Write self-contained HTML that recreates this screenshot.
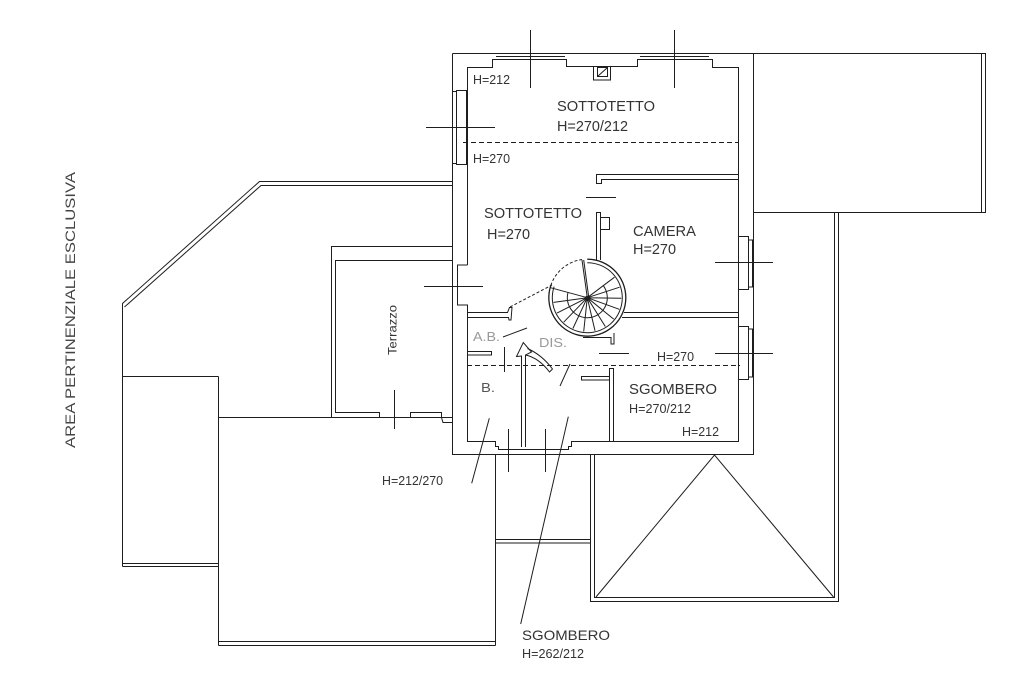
<!DOCTYPE html>
<html><head><meta charset="utf-8"><style>
html,body{margin:0;padding:0;background:#fff;}
svg{display:block;}
text{font-family:"Liberation Sans",Arial,sans-serif;fill:#333;}
</style></head><body>
<svg width="1024" height="681" viewBox="0 0 1024 681" xmlns="http://www.w3.org/2000/svg">
<rect width="1024" height="681" fill="#fff"/>
<g fill="none" stroke="#1e1e1e" stroke-width="1">
<!-- main building outer -->
<path d="M452.5,53.5 H985.5 V212.5 H753.5 M452.5,53.5 V454.5 H753.5 V53.5"/>
<path d="M981.5,53.5 V212.5"/>
<!-- inner wall -->
<path d="M467.5,265 V67.5 H492.5 V59.5 H566.5 V66.5 H637.5 V59.5 H712.5 V67.5 H738.5 V441.5 H571.5 V446.5 H568.5 V449.5 H498.5 V446.5 H495.5 V441.5 H467.5 V305 H457.5 V265 H467.5"/>
<path d="M496,56.5 H565 M640,56.5 H709"/>
<!-- vent -->
<rect x="593.5" y="66.5" width="17" height="13.5"/>
<rect x="597.5" y="67.5" width="10" height="9"/>
<path d="M597.5,76.5 L607.5,67.5"/>
<!-- left windows -->
<rect x="456.5" y="90.5" width="10" height="74"/>
<path d="M452.5,91.5 H456.5 M452.5,163.5 H456.5"/>
<!-- right windows -->
<rect x="738.5" y="236.5" width="10" height="53"/>
<path d="M748.5,240 H752.5 V287 H748.5"/>
<rect x="738.5" y="326.5" width="10" height="53"/>
<path d="M748.5,329 H752.5 V377 H748.5"/>
<!-- cross markers -->
<path d="M530.5,30 V88 M674.5,30 V88 M426,127.5 H495 M424,286.5 H483 M715,262.5 H773 M715,353.5 H773 M599,353.5 H629 M394.5,390 V429 M508.5,429 V472 M545.5,429 V472 M586,197.5 H616"/>
<!-- dashed -->
<path d="M463,142.5 H738" stroke-dasharray="5,3"/>
<path d="M467,365.5 H740" stroke-dasharray="5,3"/>
<!-- partition walls -->
<path d="M738.5,174.5 H596.5 V183.5 H601.5 V179.5 H738.5"/>
<path d="M596.5,260 V212.5 H600.5 V260"/>
<rect x="600.5" y="217.5" width="9" height="12"/>
<path d="M624,312.5 H738.5 M622,317.5 H738.5"/>
<path d="M467.5,312.5 H507.5 L509.5,307.5 H512 L511,320 H509 L508.5,317.5 H467.5"/>
<!-- A.B. -->
<path d="M467.5,351.5 H491.5 V355 H467.5"/>
<path d="M503,337 L527,328"/>
<path d="M504.5,347 V372"/>
<!-- arrow / wall -->
<path d="M521.5,447 V356 L516.5,356.5 L523.3,342.5 L531.5,352 L525.5,355 V447"/>
<path d="M527.5,348.5 Q542,355 552.5,369 L549.5,372 Q539,358 525.5,355"/>
<path d="M570,364 L560,386"/>
<path d="M510,307 L552,285" stroke-dasharray="3,2"/>
<path d="M609.5,441 V368.5 H613.5 V441"/>
<path d="M609.5,376.5 H581.5 V380 H609.5"/>
<path d="M583,337.5 H611 V344 H614 V333"/>
<!-- stair -->
<path d="M587.3,259.2 A38.5,38.5 0 1 1 550.8,285.5" stroke-width="1.3"/>
<path d="M587.3,262.7 A35,35 0 1 1 554.1,286.6"/>
<path d="M550.8,285.5 A38.5,38.5 0 0 1 582,259.5" stroke-dasharray="3,2"/>
<path d="M587.3,297.7 L582,260 M588.8,297.7 L583.7,260"/>
<path d="M587.3,297.7 L614.5,277.2 M587.3,297.7 L619.6,287.2 M587.3,297.7 L621.3,298.3 M587.3,297.7 L619.3,309.3 M587.3,297.7 L613.7,319.1 M587.3,297.7 L605.3,326.5 M587.3,297.7 L595,330.8 M587.3,297.7 L583.7,331.5 M587.3,297.7 L572.9,328.5 M587.3,297.7 L563.7,322.2 M587.3,297.7 L557,313.1 M587.3,297.7 L553.6,302.4 M587.3,297.7 L550.5,287.7"/>
<path d="M603.3,285.7 A20,20 0 1 1 568.0,292.5"/>
<circle cx="587.3" cy="297.7" r="1.5"/>
<!-- left area -->
<path d="M122.5,566.5 V303.5 L259.5,181.5 H452.5"/>
<path d="M124.5,307 L261,185.5 H452.5"/>
<path d="M122.5,376.5 H218.5 M218.5,376.5 V645.5"/>
<path d="M122.5,563.5 H218.5 M122.5,566.5 H218.5"/>
<path d="M218.5,417.5 H452.5"/>
<path d="M495.5,454.5 V645.5 M218.5,641.5 H495.5 M218.5,645.5 H495.5"/>
<!-- terrazzo -->
<path d="M331.5,417.5 V246.5 H452.5"/>
<path d="M379.5,417.5 V412.5 H335.5 V260.5 H452.5"/>
<path d="M410.5,417.5 V412.5 H441.5 V417.5 L443,422.5 H452.5"/>
<!-- bottom -->
<path d="M495.5,539.5 H590.5 M495.5,543 H590.5"/>
<path d="M590.5,454.5 V601.5 H838.5 V212.5"/>
<path d="M594.5,454.5 V597.5 H834.5 V212.5"/>
<path d="M596,597 L714.5,455 L833.5,597"/>
<!-- leaders -->
<path d="M489.3,418.3 L471.7,483.3 M568.3,416.7 L520.7,624"/>
</g>
<!-- texts -->
<g>
<text x="473" y="84" font-size="12.5" textLength="37" lengthAdjust="spacingAndGlyphs">H=212</text>
<text x="557" y="111" font-size="15" textLength="98" lengthAdjust="spacingAndGlyphs">SOTTOTETTO</text>
<text x="557" y="131" font-size="15" textLength="71" lengthAdjust="spacingAndGlyphs">H=270/212</text>
<text x="473" y="163" font-size="12.5" textLength="37" lengthAdjust="spacingAndGlyphs">H=270</text>
<text x="484" y="218" font-size="15" textLength="98" lengthAdjust="spacingAndGlyphs">SOTTOTETTO</text>
<text x="487" y="239" font-size="15" textLength="43" lengthAdjust="spacingAndGlyphs">H=270</text>
<text x="633" y="236" font-size="15" textLength="63" lengthAdjust="spacingAndGlyphs">CAMERA</text>
<text x="633" y="254" font-size="15" textLength="43" lengthAdjust="spacingAndGlyphs">H=270</text>
<text x="473" y="341" font-size="12.5" textLength="27" lengthAdjust="spacingAndGlyphs" style="fill:#9a9a9a">A.B.</text>
<text x="539" y="347" font-size="13" textLength="28" lengthAdjust="spacingAndGlyphs" style="fill:#9a9a9a">DIS.</text>
<text x="481" y="392" font-size="13" textLength="14" lengthAdjust="spacingAndGlyphs" style="fill:#555">B.</text>
<text x="657" y="361" font-size="12.5" textLength="37" lengthAdjust="spacingAndGlyphs">H=270</text>
<text x="629" y="394" font-size="15" textLength="88" lengthAdjust="spacingAndGlyphs">SGOMBERO</text>
<text x="629" y="413" font-size="13" textLength="62" lengthAdjust="spacingAndGlyphs">H=270/212</text>
<text x="682" y="436" font-size="12.5" textLength="37" lengthAdjust="spacingAndGlyphs">H=212</text>
<text x="382" y="485" font-size="12.5" textLength="61" lengthAdjust="spacingAndGlyphs">H=212/270</text>
<text x="522" y="640" font-size="14" textLength="88" lengthAdjust="spacingAndGlyphs">SGOMBERO</text>
<text x="522" y="658" font-size="12.5" textLength="62" lengthAdjust="spacingAndGlyphs">H=262/212</text>
<text transform="translate(396.5,355) rotate(-90)" font-size="12" textLength="50" lengthAdjust="spacingAndGlyphs">Terrazzo</text>
<text transform="translate(75,448) rotate(-90)" font-size="14" textLength="276" lengthAdjust="spacingAndGlyphs" style="fill:#444">AREA PERTINENZIALE ESCLUSIVA</text>
</g>
</svg>
</body></html>
